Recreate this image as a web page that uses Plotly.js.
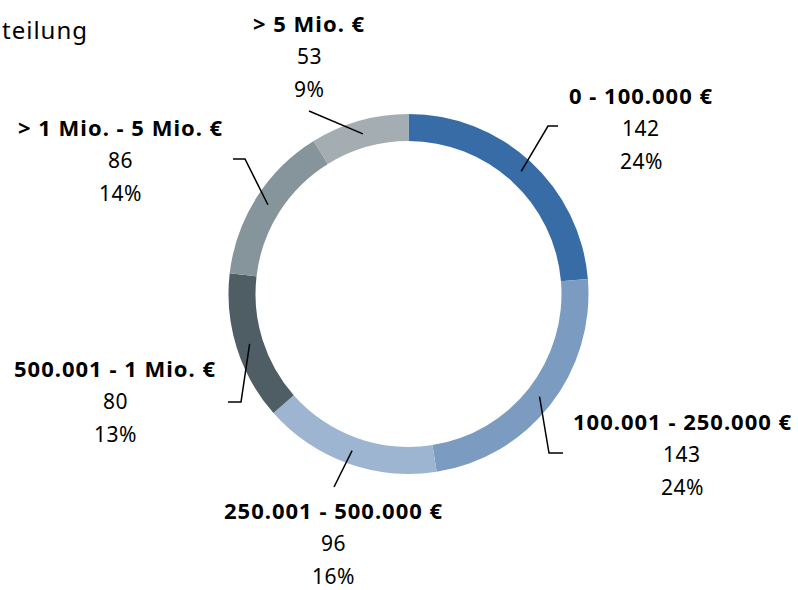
<!DOCTYPE html>
<html>
<head>
<meta charset="utf-8">
<script src="https://cdn.plot.ly/plotly-3.0.1.min.js"></script>
<style>html,body{margin:0;padding:0;background:#fff;}#chart{width:798px;height:590px;}</style>
</head>
<body>
<div id="chart"></div>
<script>
// Data
const categories = ["0 - 100.000 €", "100.001 - 250.000 €", "250.001 - 500.000 €", "500.001 - 1 Mio. €", "> 1 Mio. - 5 Mio. €", "> 5 Mio. €"];
const values = [142, 143, 96, 80, 86, 53];
const colors = ["#386ca6", "#7b9cc0", "#9db5d0", "#4f5e65", "#86959b", "#a4adb2"];
const titleText = "teilung";

// Layout constants (pixels)
const W = 798, H = 590;
const cx = 408.5, cy = 294, R = 180, holeFrac = 0.85;
const rMid = R * (1 + holeFrac) / 2;
// label centre (first line) and leader elbow/end points
const labelPos = [[641, 95], [682, 421], [333, 510], [115, 368], [120, 127], [309, 23]];
const leaderPts = [
  [[548, 126], [558, 126]],
  [[549, 453], [563, 453]],
  [[334, 487]],
  [[241, 402], [228, 402]],
  [[245, 159], [233, 159]],
  [[309, 111]]
];
const lineGap = 33;
const FONT = "Noto Sans, sans-serif";

const px = x => x / W;
const py = y => 1 - y / H;

const total = values.reduce((a, b) => a + b, 0);
const annotations = [];
const shapes = [];
let cum = 0;
values.forEach((v, i) => {
  const midFrac = (cum + v / 2) / total;
  cum += v;
  const ang = midFrac * 2 * Math.PI;
  const sx = cx + rMid * Math.sin(ang);
  const sy = cy - rMid * Math.cos(ang);
  let path = `M${px(sx)},${py(sy)}`;
  leaderPts[i].forEach(p => { path += ` L${px(p[0])},${py(p[1])}`; });
  shapes.push({type: 'path', xref: 'paper', yref: 'paper', path: path, line: {color: '#000', width: 1.5}});
  const [lx, ly] = labelPos[i];
  const lines = [
    '<span style="letter-spacing:1px"><b>' + categories[i] + '</b></span>',
    '<span style="letter-spacing:0.5px">' + v + '</span>',
    '<span style="letter-spacing:0.5px">' + Math.round(v / total * 100) + '%</span>'
  ];
  lines.forEach((t, k) => {
    annotations.push({
      x: px(lx), y: py(ly + k * lineGap), xref: 'paper', yref: 'paper',
      text: t, showarrow: false, xanchor: 'center', yanchor: 'middle',
      font: {family: FONT, size: k === 0 ? 22 : 21, color: '#000'}
    });
  });
});

annotations.push({
  x: 0, y: py(30), xref: 'paper', yref: 'paper',
  text: '<span style="letter-spacing:1px">' + titleText + '</span>', showarrow: false,
  xanchor: 'left', yanchor: 'middle', font: {family: FONT, size: 24, color: '#000'}
});

const trace = {
  type: 'pie',
  values: values,
  labels: categories,
  marker: {colors: colors, line: {width: 0}},
  hole: holeFrac,
  sort: false,
  direction: 'clockwise',
  rotation: 0,
  textinfo: 'none',
  hoverinfo: 'label+value+percent',
  domain: {x: [px(cx - R), px(cx + R)], y: [py(cy + R), py(cy - R)]}
};

const layout = {
  width: W, height: H,
  margin: {l: 0, r: 0, t: 0, b: 0},
  paper_bgcolor: '#fff',
  showlegend: false,
  annotations: annotations,
  shapes: shapes,
  font: {family: FONT}
};

Plotly.newPlot('chart', [trace], layout, {displayModeBar: false, staticPlot: true});
</script>
</body>
</html>
